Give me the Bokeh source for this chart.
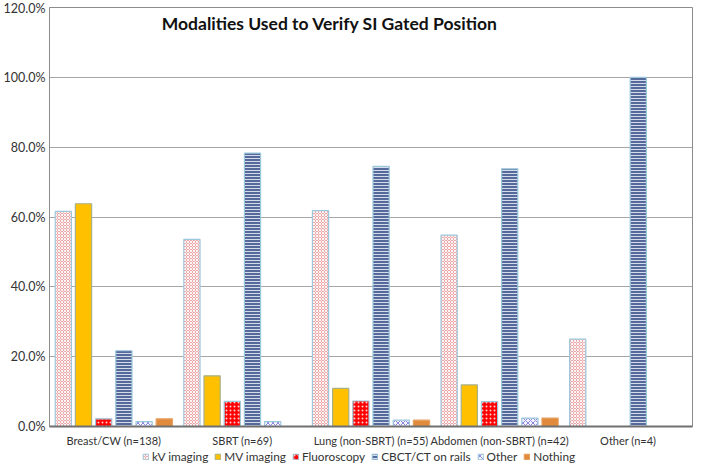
from bokeh.plotting import figure
from bokeh.layouts import column
from bokeh.models import (ColumnDataSource, FactorRange, FixedTicker, PrintfTickFormatter,
                          Legend, LegendItem, Label)
from bokeh.transform import dodge
from bokeh.embed import file_html
from bokeh.resources import INLINE

categories = ["Breast/CW (n=138)", "SBRT (n=69)", "Lung (non-SBRT) (n=55)",
              "Abdomen (non-SBRT) (n=42)", "Other (n=4)"]
kv_imaging = [61.6, 53.6, 61.8, 54.8, 25.0]
mv_imaging = [63.8, 14.5, 10.9, 11.9, 0.0]
fluoroscopy = [2.2, 7.2, 7.3, 7.1, 0.0]
cbct_ct_rails = [21.7, 78.3, 74.5, 73.8, 100.0]
other_mod = [1.4, 1.4, 1.8, 2.4, 0.0]
nothing = [2.2, 0.0, 1.8, 2.4, 0.0]
series_names = ["kV imaging", "MV imaging", "Fluoroscopy", "CBCT/CT on rails", "Other", "Nothing"]
y_ticks = [0, 20, 40, 60, 80, 100, 120]

FONT = "Lato"
src = ColumnDataSource(dict(cat=categories, kv=kv_imaging, mv=mv_imaging, fl=fluoroscopy,
                            cb=cbct_ct_rails, ot=other_mod, no=nothing))

p = figure(x_range=FactorRange(*categories), y_range=(0, 120), width=693, height=450,
           output_backend="svg", toolbar_location=None,
           min_border_left=40, min_border_right=1, min_border_top=7, min_border_bottom=24)
p.background_fill_color = "white"
p.border_fill_color = "white"
p.outline_line_color = "#8C8C8C"
p.outline_line_width = 1

step = 0.157
bw = 0.126
styles = [
    dict(field="kv", fill_color="#ECA8A8", hatch_pattern="diagonal_cross", hatch_color="#FFFFFF",
         hatch_scale=3, hatch_weight=0.9, line_color="#9CC8DC"),
    dict(field="mv", fill_color="#FFC000", line_color="#A8B088"),
    dict(field="fl", fill_color="#FF0000", hatch_pattern="dot", hatch_color="#FFD0D0",
         hatch_scale=4, hatch_weight=1, line_color="#9CC8DC"),
    dict(field="cb", fill_color="#55699B", hatch_pattern="horizontal_line", hatch_color="#D4DBEB",
         hatch_scale=3, hatch_weight=1, line_color="#9CC8DC"),
    dict(field="ot", fill_color="#F4F4FF", hatch_pattern="diagonal_cross", hatch_color="#8C88E0",
         hatch_scale=5, hatch_weight=1, line_color="#9CC8DC"),
    dict(field="no", fill_color="#E08A3C", line_color="#E8A060"),
]
for i, st in enumerate(styles):
    st = dict(st)
    field = st.pop("field")
    p.vbar(x=dodge("cat", (i - 2.5) * step, range=p.x_range), top=field, width=bw,
           source=src, line_width=1.2, **st)

for ax in (p.xaxis, p.yaxis):
    ax.major_tick_line_color = None
    ax.minor_tick_line_color = None
    ax.major_tick_out = 0
    ax.major_tick_in = 0
    ax.minor_tick_out = 0
    ax.major_label_text_font = FONT
    ax.major_label_text_color = "#333333"

p.yaxis.ticker = FixedTicker(ticks=y_ticks)
p.yaxis.formatter = PrintfTickFormatter(format="%.1f%%")
p.yaxis.axis_line_color = "#8C8C8C"
p.yaxis.major_label_text_font_size = "12.5px"
p.yaxis.major_label_standoff = 4

p.xaxis.axis_line_color = "#707070"
p.xaxis.axis_line_width = 2
p.xaxis.major_label_text_font_size = "11px"
p.xaxis.major_label_standoff = 7

p.xgrid.grid_line_color = None
p.ygrid.grid_line_color = "#A6A6A6"
p.ygrid.grid_line_width = 1.2

title = Label(x=2.18, y=115.5, text="Modalities Used to Verify SI Gated Position",
              text_font=FONT, text_font_size="17.5px", text_font_style="bold",
              text_color="#111111", text_align="center", text_baseline="middle")
p.add_layout(title)

# legend strip below the chart (bars out of its visible y-range; only legend shows)
lg = figure(width=693, height=14, x_range=p.x_range, y_range=(500, 501),
            output_backend="svg", toolbar_location=None,
            x_axis_location=None, y_axis_location=None,
            min_border_left=0, min_border_right=0, min_border_top=0, min_border_bottom=0)
lg.outline_line_color = None
lg.grid.grid_line_color = None
lg.background_fill_color = "white"
lg.border_fill_color = "white"
items = []
for i, st in enumerate(styles):
    st = dict(st)
    field = st.pop("field")
    r = lg.vbar(x="cat", top=field, width=0.1, source=src, line_width=1, **st)
    items.append(LegendItem(label=series_names[i], renderers=[r]))

legend = Legend(items=items, orientation="horizontal", location=(93, 0),
                border_line_color=None, background_fill_alpha=0,
                label_text_font=FONT, label_text_font_size="11.8px", label_text_color="#333333",
                glyph_width=7, glyph_height=7, label_standoff=3, spacing=6,
                padding=0, margin=0, label_height=14)
lg.add_layout(legend)

layout = column(p, lg, spacing=0)
open("out.html", "w").write(file_html(layout, INLINE))
